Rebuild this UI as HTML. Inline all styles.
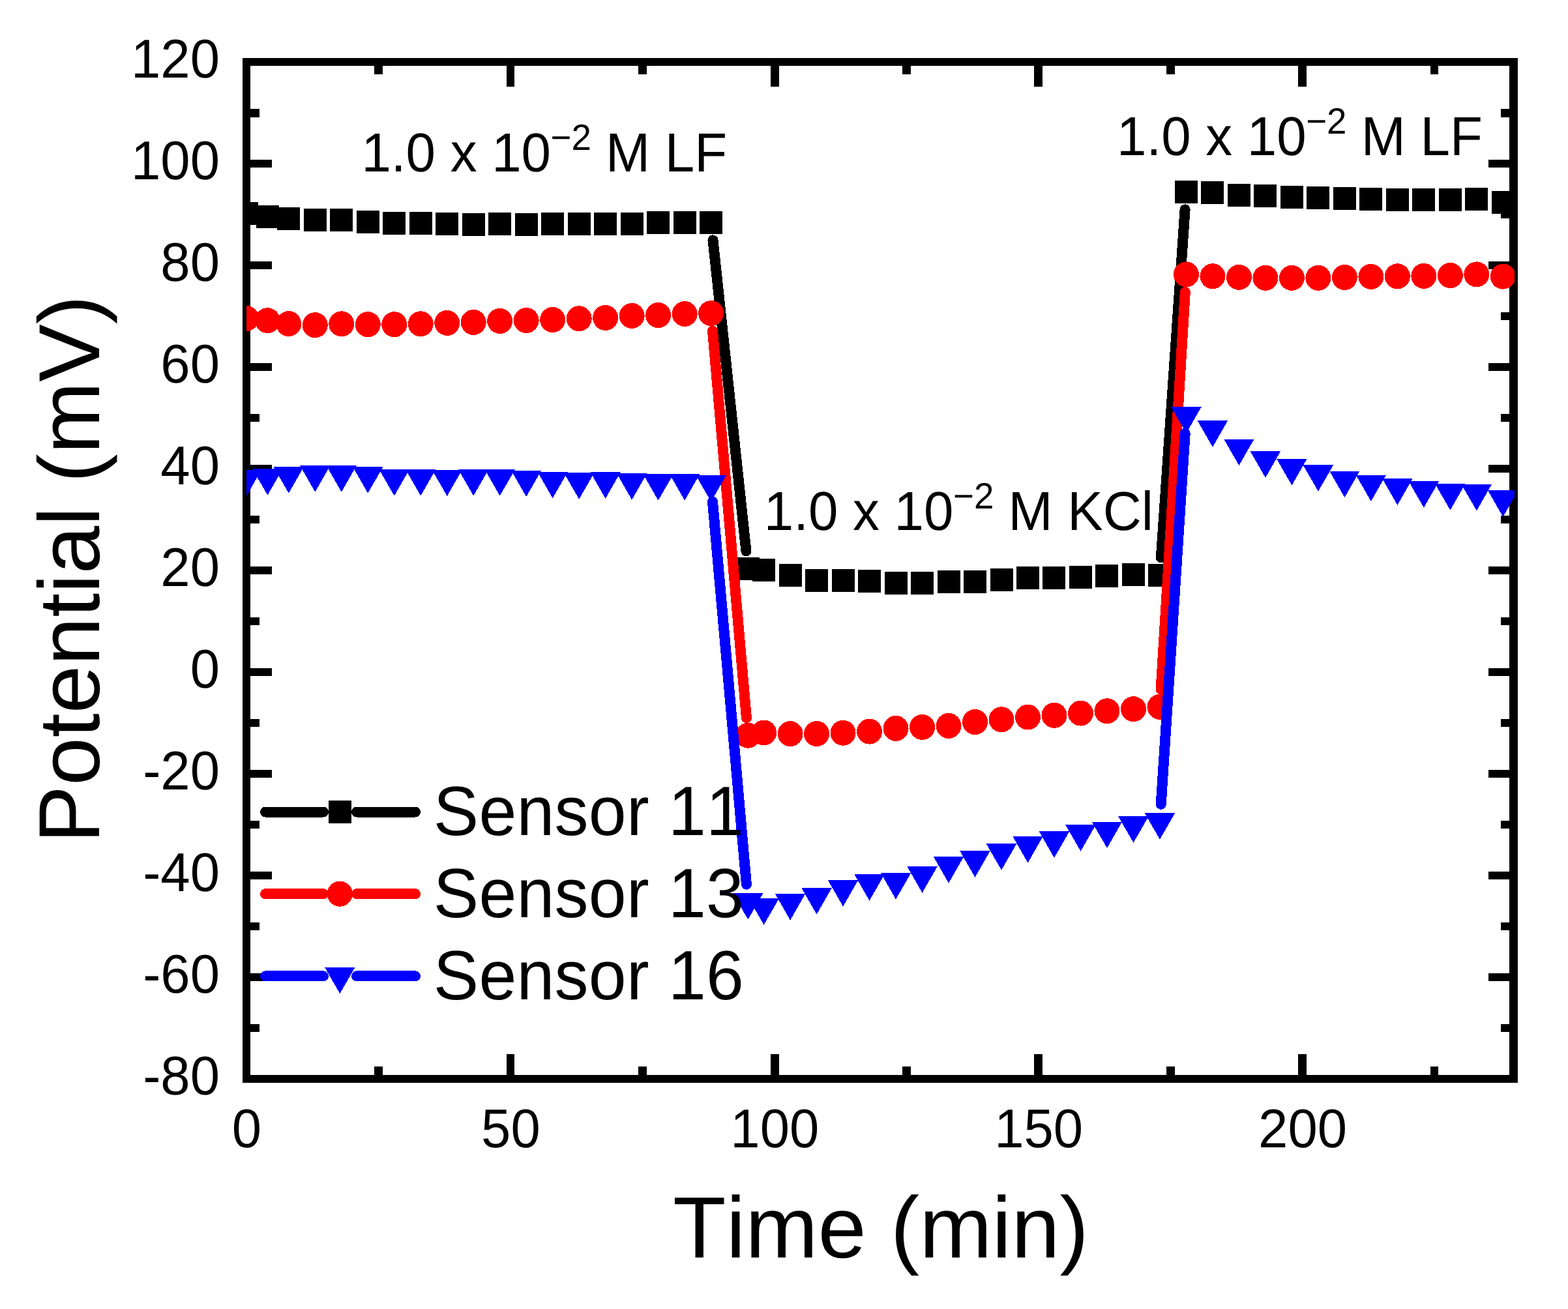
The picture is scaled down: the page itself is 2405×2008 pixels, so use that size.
<!DOCTYPE html>
<html lang="en"><head><meta charset="utf-8"><title>Potential vs Time</title>
<style>
html,body{margin:0;padding:0;background:#fff;}
body{width:2405px;height:2008px;overflow:hidden;}
svg{display:block;}
text{font-family:"Liberation Sans",Arial,Helvetica,sans-serif;fill:#000;font-kerning:none;font-variant-ligatures:none;text-rendering:geometricPrecision;}
.tk{font-size:81.5px;}
.an{font-size:81.7px;}
.an .sup{font-size:54.7px;}
.lg{font-size:104px;letter-spacing:0.25px;}
.ax{font-size:133px;}
</style></head>
<body>
<svg width="2405" height="2008" viewBox="0 0 2405 2008">
<rect width="2405" height="2008" fill="#fff"/>
<g fill="#000" shape-rendering="crispEdges">
<rect x="372" y="89" width="1956" height="12"/>
<rect x="372" y="1649" width="1956" height="12"/>
<rect x="372" y="89" width="12" height="1572"/>
<rect x="2315" y="89" width="13" height="1572"/>
<rect x="384" y="167" width="14" height="13"/>
<rect x="2302" y="167" width="13" height="13"/>
<rect x="384" y="245" width="33" height="12"/>
<rect x="2283" y="245" width="32" height="12"/>
<rect x="384" y="323" width="14" height="12"/>
<rect x="2302" y="323" width="13" height="12"/>
<rect x="384" y="401" width="33" height="12"/>
<rect x="2283" y="401" width="32" height="12"/>
<rect x="384" y="479" width="14" height="12"/>
<rect x="2302" y="479" width="13" height="12"/>
<rect x="384" y="557" width="33" height="12"/>
<rect x="2283" y="557" width="32" height="12"/>
<rect x="384" y="635" width="14" height="12"/>
<rect x="2302" y="635" width="13" height="12"/>
<rect x="384" y="713" width="33" height="12"/>
<rect x="2283" y="713" width="32" height="12"/>
<rect x="384" y="791" width="14" height="12"/>
<rect x="2302" y="791" width="13" height="12"/>
<rect x="384" y="869" width="33" height="12"/>
<rect x="2283" y="869" width="32" height="12"/>
<rect x="384" y="947" width="14" height="12"/>
<rect x="2302" y="947" width="13" height="12"/>
<rect x="384" y="1025" width="33" height="12"/>
<rect x="2283" y="1025" width="32" height="12"/>
<rect x="384" y="1103" width="14" height="12"/>
<rect x="2302" y="1103" width="13" height="12"/>
<rect x="384" y="1181" width="33" height="12"/>
<rect x="2283" y="1181" width="32" height="12"/>
<rect x="384" y="1259" width="14" height="12"/>
<rect x="2302" y="1259" width="13" height="12"/>
<rect x="384" y="1337" width="33" height="12"/>
<rect x="2283" y="1337" width="32" height="12"/>
<rect x="384" y="1415" width="14" height="12"/>
<rect x="2302" y="1415" width="13" height="12"/>
<rect x="384" y="1493" width="33" height="12"/>
<rect x="2283" y="1493" width="32" height="12"/>
<rect x="384" y="1571" width="14" height="12"/>
<rect x="2302" y="1571" width="13" height="12"/>
<rect x="574" y="101" width="13" height="13"/>
<rect x="574" y="1636" width="13" height="13"/>
<rect x="777" y="101" width="12" height="32"/>
<rect x="777" y="1617" width="12" height="32"/>
<rect x="979" y="101" width="13" height="13"/>
<rect x="979" y="1636" width="13" height="13"/>
<rect x="1182" y="101" width="13" height="32"/>
<rect x="1182" y="1617" width="13" height="32"/>
<rect x="1384" y="101" width="13" height="13"/>
<rect x="1384" y="1636" width="13" height="13"/>
<rect x="1586" y="101" width="13" height="32"/>
<rect x="1586" y="1617" width="13" height="32"/>
<rect x="1789" y="101" width="13" height="13"/>
<rect x="1789" y="1636" width="13" height="13"/>
<rect x="1991" y="101" width="13" height="32"/>
<rect x="1991" y="1617" width="13" height="32"/>
<rect x="2194" y="101" width="12" height="13"/>
<rect x="2194" y="1636" width="12" height="13"/>
</g>
<g>
<text class="tk" transform="translate(337 119) scale(1 1.03)" text-anchor="end">120</text>
<text class="tk" transform="translate(337 275) scale(1 1.03)" text-anchor="end">100</text>
<text class="tk" transform="translate(337 431) scale(1 1.03)" text-anchor="end">80</text>
<text class="tk" transform="translate(337 587) scale(1 1.03)" text-anchor="end">60</text>
<text class="tk" transform="translate(337 743) scale(1 1.03)" text-anchor="end">40</text>
<text class="tk" transform="translate(337 899) scale(1 1.03)" text-anchor="end">20</text>
<text class="tk" transform="translate(337 1055) scale(1 1.03)" text-anchor="end">0</text>
<text class="tk" transform="translate(337 1211) scale(1 1.03)" text-anchor="end">-20</text>
<text class="tk" transform="translate(337 1367) scale(1 1.03)" text-anchor="end">-40</text>
<text class="tk" transform="translate(337 1523) scale(1 1.03)" text-anchor="end">-60</text>
<text class="tk" transform="translate(337 1679) scale(1 1.03)" text-anchor="end">-80</text>
<text class="tk" transform="translate(378.5 1760) scale(1 1.03)" text-anchor="middle">0</text>
<text class="tk" transform="translate(783.4 1760) scale(1 1.03)" text-anchor="middle">50</text>
<text class="tk" transform="translate(1188.3 1760) scale(1 1.03)" text-anchor="middle">100</text>
<text class="tk" transform="translate(1593.2 1760) scale(1 1.03)" text-anchor="middle">150</text>
<text class="tk" transform="translate(1998.1 1760) scale(1 1.03)" text-anchor="middle">200</text>
</g>
<text class="ax" style="font-size:133.5px" x="1351" y="1929" text-anchor="middle">Time (min)</text>
<text class="ax" style="font-size:132.7px" transform="translate(152 873.3) rotate(-90)" text-anchor="middle">Potential (mV)</text>
<defs><clipPath id="plotclip"><rect x="378" y="95" width="1945" height="1560"/></clipPath></defs>
<g clip-path="url(#plotclip)" shape-rendering="crispEdges">
<g stroke="#000" stroke-width="16" stroke-linecap="round" fill="none"><line x1="1093.49" y1="368.35" x2="1144.44" y2="845.45"/><line x1="1780.81" y1="855.46" x2="1817.59" y2="321.34"/></g>
<g fill="#000"><rect x="360.5" y="310.4" width="35" height="35"/><rect x="392.89" y="314.9" width="35" height="35"/><rect x="425.28" y="318" width="35" height="35"/><rect x="465.77" y="320" width="35" height="35"/><rect x="506.26" y="320.4" width="35" height="35"/><rect x="546.75" y="322.9" width="35" height="35"/><rect x="587.24" y="324.5" width="35" height="35"/><rect x="627.73" y="325.4" width="35" height="35"/><rect x="668.22" y="325.9" width="35" height="35"/><rect x="708.71" y="327" width="35" height="35"/><rect x="749.2" y="326" width="35" height="35"/><rect x="789.69" y="327" width="35" height="35"/><rect x="830.18" y="326" width="35" height="35"/><rect x="870.67" y="326" width="35" height="35"/><rect x="911.16" y="326" width="35" height="35"/><rect x="951.65" y="325.5" width="35" height="35"/><rect x="992.14" y="324.4" width="35" height="35"/><rect x="1032.63" y="324.4" width="35" height="35"/><rect x="1073.12" y="324" width="35" height="35"/><rect x="1129.81" y="854.8" width="35" height="35"/><rect x="1154.1" y="857" width="35" height="35"/><rect x="1194.59" y="865" width="35" height="35"/><rect x="1235.08" y="873" width="35" height="35"/><rect x="1275.57" y="873" width="35" height="35"/><rect x="1316.06" y="874.3" width="35" height="35"/><rect x="1356.55" y="877.4" width="35" height="35"/><rect x="1397.04" y="877.4" width="35" height="35"/><rect x="1437.53" y="875.4" width="35" height="35"/><rect x="1478.02" y="874.5" width="35" height="35"/><rect x="1518.51" y="871.5" width="35" height="35"/><rect x="1559" y="869.4" width="35" height="35"/><rect x="1599.49" y="869.4" width="35" height="35"/><rect x="1639.98" y="867.5" width="35" height="35"/><rect x="1680.47" y="866" width="35" height="35"/><rect x="1720.96" y="863.5" width="35" height="35"/><rect x="1761.45" y="864.9" width="35" height="35"/><rect x="1801.94" y="276.9" width="35" height="35"/><rect x="1842.43" y="278" width="35" height="35"/><rect x="1882.92" y="282" width="35" height="35"/><rect x="1923.41" y="282.9" width="35" height="35"/><rect x="1963.9" y="284.9" width="35" height="35"/><rect x="2004.39" y="285.9" width="35" height="35"/><rect x="2044.88" y="287" width="35" height="35"/><rect x="2085.37" y="288" width="35" height="35"/><rect x="2125.86" y="288.9" width="35" height="35"/><rect x="2166.35" y="288.9" width="35" height="35"/><rect x="2206.84" y="288.9" width="35" height="35"/><rect x="2247.33" y="288" width="35" height="35"/><rect x="2287.82" y="292.9" width="35" height="35"/><rect x="2304.02" y="300" width="35" height="35"/></g>
<g stroke="#f00" stroke-width="16" stroke-linecap="round" fill="none"><line x1="1092.98" y1="507.5" x2="1144.96" y2="1101.3"/><line x1="1780.6" y1="1057.45" x2="1817.8" y2="447.85"/></g>
<g fill="#f00"><circle cx="378" cy="488.5" r="19.5"/><circle cx="410.39" cy="491.7" r="19.5"/><circle cx="442.78" cy="496.6" r="19.5"/><circle cx="483.27" cy="498.7" r="19.5"/><circle cx="523.76" cy="496.8" r="19.5"/><circle cx="564.25" cy="497.7" r="19.5"/><circle cx="604.74" cy="497.7" r="19.5"/><circle cx="645.23" cy="496.8" r="19.5"/><circle cx="685.72" cy="495.4" r="19.5"/><circle cx="726.21" cy="494.4" r="19.5"/><circle cx="766.7" cy="492.4" r="19.5"/><circle cx="807.19" cy="491.5" r="19.5"/><circle cx="847.68" cy="490.5" r="19.5"/><circle cx="888.17" cy="488.7" r="19.5"/><circle cx="928.66" cy="487.4" r="19.5"/><circle cx="969.15" cy="484.4" r="19.5"/><circle cx="1009.64" cy="483.5" r="19.5"/><circle cx="1050.13" cy="481.5" r="19.5"/><circle cx="1090.62" cy="480.6" r="19.5"/><circle cx="1147.31" cy="1128.2" r="19.5"/><circle cx="1171.6" cy="1124" r="19.5"/><circle cx="1212.09" cy="1125.6" r="19.5"/><circle cx="1252.58" cy="1125.6" r="19.5"/><circle cx="1293.07" cy="1124.2" r="19.5"/><circle cx="1333.56" cy="1122.1" r="19.5"/><circle cx="1374.05" cy="1117.4" r="19.5"/><circle cx="1414.54" cy="1115.4" r="19.5"/><circle cx="1455.03" cy="1113.4" r="19.5"/><circle cx="1495.52" cy="1107.5" r="19.5"/><circle cx="1536.01" cy="1103.7" r="19.5"/><circle cx="1576.5" cy="1100.1" r="19.5"/><circle cx="1616.99" cy="1097.3" r="19.5"/><circle cx="1657.48" cy="1094.1" r="19.5"/><circle cx="1697.97" cy="1090.7" r="19.5"/><circle cx="1738.46" cy="1087.7" r="19.5"/><circle cx="1778.95" cy="1084.4" r="19.5"/><circle cx="1819.44" cy="420.9" r="19.5"/><circle cx="1859.93" cy="423.7" r="19.5"/><circle cx="1900.42" cy="425.3" r="19.5"/><circle cx="1940.91" cy="426.3" r="19.5"/><circle cx="1981.4" cy="426.3" r="19.5"/><circle cx="2021.89" cy="426.3" r="19.5"/><circle cx="2062.38" cy="425.4" r="19.5"/><circle cx="2102.87" cy="424.4" r="19.5"/><circle cx="2143.36" cy="423.8" r="19.5"/><circle cx="2183.85" cy="423.4" r="19.5"/><circle cx="2224.34" cy="422.5" r="19.5"/><circle cx="2264.83" cy="420.9" r="19.5"/><circle cx="2305.32" cy="424.1" r="19.5"/></g>
<g stroke="#00f" stroke-width="16" stroke-linecap="round" fill="none"><line x1="1093" y1="769.5" x2="1144.93" y2="1356.7"/><line x1="1780.71" y1="1233.76" x2="1817.69" y2="664.64"/></g>
<g fill="#00f"><path d="M354.75 720.5h46.5l-23.25 40.5z"/><path d="M387.14 719.2h46.5l-23.25 40.5z"/><path d="M419.53 716.1h46.5l-23.25 40.5z"/><path d="M460.02 714.2h46.5l-23.25 40.5z"/><path d="M500.51 714.2h46.5l-23.25 40.5z"/><path d="M541 716.1h46.5l-23.25 40.5z"/><path d="M581.49 720.1h46.5l-23.25 40.5z"/><path d="M621.98 720.1h46.5l-23.25 40.5z"/><path d="M662.47 720.5h46.5l-23.25 40.5z"/><path d="M702.96 720.1h46.5l-23.25 40.5z"/><path d="M743.45 720.15h46.5l-23.25 40.5z"/><path d="M783.94 721.5h46.5l-23.25 40.5z"/><path d="M824.43 723.8h46.5l-23.25 40.5z"/><path d="M864.92 725.3h46.5l-23.25 40.5z"/><path d="M905.41 724.3h46.5l-23.25 40.5z"/><path d="M945.9 726.2h46.5l-23.25 40.5z"/><path d="M986.39 727.2h46.5l-23.25 40.5z"/><path d="M1026.88 727.2h46.5l-23.25 40.5z"/><path d="M1067.37 729.1h46.5l-23.25 40.5z"/><path d="M1124.06 1370.1h46.5l-23.25 40.5z"/><path d="M1148.35 1378.3h46.5l-23.25 40.5z"/><path d="M1188.84 1371h46.5l-23.25 40.5z"/><path d="M1229.33 1362.1h46.5l-23.25 40.5z"/><path d="M1269.82 1350.1h46.5l-23.25 40.5z"/><path d="M1310.31 1341.1h46.5l-23.25 40.5z"/><path d="M1350.8 1339h46.5l-23.25 40.5z"/><path d="M1391.29 1329.1h46.5l-23.25 40.5z"/><path d="M1431.78 1314.2h46.5l-23.25 40.5z"/><path d="M1472.27 1305.3h46.5l-23.25 40.5z"/><path d="M1512.76 1294.3h46.5l-23.25 40.5z"/><path d="M1553.25 1283h46.5l-23.25 40.5z"/><path d="M1593.74 1275.4h46.5l-23.25 40.5z"/><path d="M1634.23 1265.3h46.5l-23.25 40.5z"/><path d="M1674.72 1260.5h46.5l-23.25 40.5z"/><path d="M1715.21 1252.3h46.5l-23.25 40.5z"/><path d="M1755.7 1247.2h46.5l-23.25 40.5z"/><path d="M1796.19 624.2h46.5l-23.25 40.5z"/><path d="M1836.68 645.3h46.5l-23.25 40.5z"/><path d="M1877.17 673.5h46.5l-23.25 40.5z"/><path d="M1917.66 692.3h46.5l-23.25 40.5z"/><path d="M1958.15 704h46.5l-23.25 40.5z"/><path d="M1998.64 713.3h46.5l-23.25 40.5z"/><path d="M2039.13 722.5h46.5l-23.25 40.5z"/><path d="M2079.62 728.5h46.5l-23.25 40.5z"/><path d="M2120.11 734.3h46.5l-23.25 40.5z"/><path d="M2160.6 738.3h46.5l-23.25 40.5z"/><path d="M2201.09 742.1h46.5l-23.25 40.5z"/><path d="M2241.58 743h46.5l-23.25 40.5z"/><path d="M2282.07 752.4h46.5l-23.25 40.5z"/></g>
</g>
<text class="an" transform="translate(554.4 263.4) scale(1 1.03)">1.0 x 10<tspan class="sup" dx="-0.5" dy="-32.2">−2</tspan><tspan dx="-0.5" dy="32.2"> M LF</tspan></text>
<text class="an" transform="translate(1713 238) scale(1 1.03)">1.0 x 10<tspan class="sup" dx="-0.5" dy="-32.2">−2</tspan><tspan dx="-0.5" dy="32.2"> M LF</tspan></text>
<text class="an" transform="translate(1171.8 813) scale(1 1.03)">1.0 x 10<tspan class="sup" dx="-0.5" dy="-32.2">−2</tspan><tspan dx="-0.5" dy="32.2"> M KCl</tspan></text>
<g>
<g shape-rendering="crispEdges"><g stroke="#000" stroke-width="16" stroke-linecap="round"><line x1="407" y1="1245.5" x2="496" y2="1245.5"/><line x1="547" y1="1245.5" x2="637" y2="1245.5"/></g><g fill="#000"><rect x="503.8" y="1228" width="35" height="35"/></g></g>
<text class="lg" transform="translate(664.8 1281.1) scale(1 1.03)">Sensor 11</text>
<g shape-rendering="crispEdges"><g stroke="#f00" stroke-width="16" stroke-linecap="round"><line x1="407" y1="1371.2" x2="496" y2="1371.2"/><line x1="547" y1="1371.2" x2="637" y2="1371.2"/></g><g fill="#f00"><circle cx="521.3" cy="1371.2" r="19.5"/></g></g>
<text class="lg" transform="translate(664.8 1406.8) scale(1 1.03)">Sensor 13</text>
<g shape-rendering="crispEdges"><g stroke="#00f" stroke-width="16" stroke-linecap="round"><line x1="407" y1="1497.3" x2="496" y2="1497.3"/><line x1="547" y1="1497.3" x2="637" y2="1497.3"/></g><g fill="#00f"><path d="M498.05 1483.8h46.5l-23.25 40.5z"/></g></g>
<text class="lg" transform="translate(664.8 1532.9) scale(1 1.03)">Sensor 16</text>
</g>
</svg>
</body></html>
